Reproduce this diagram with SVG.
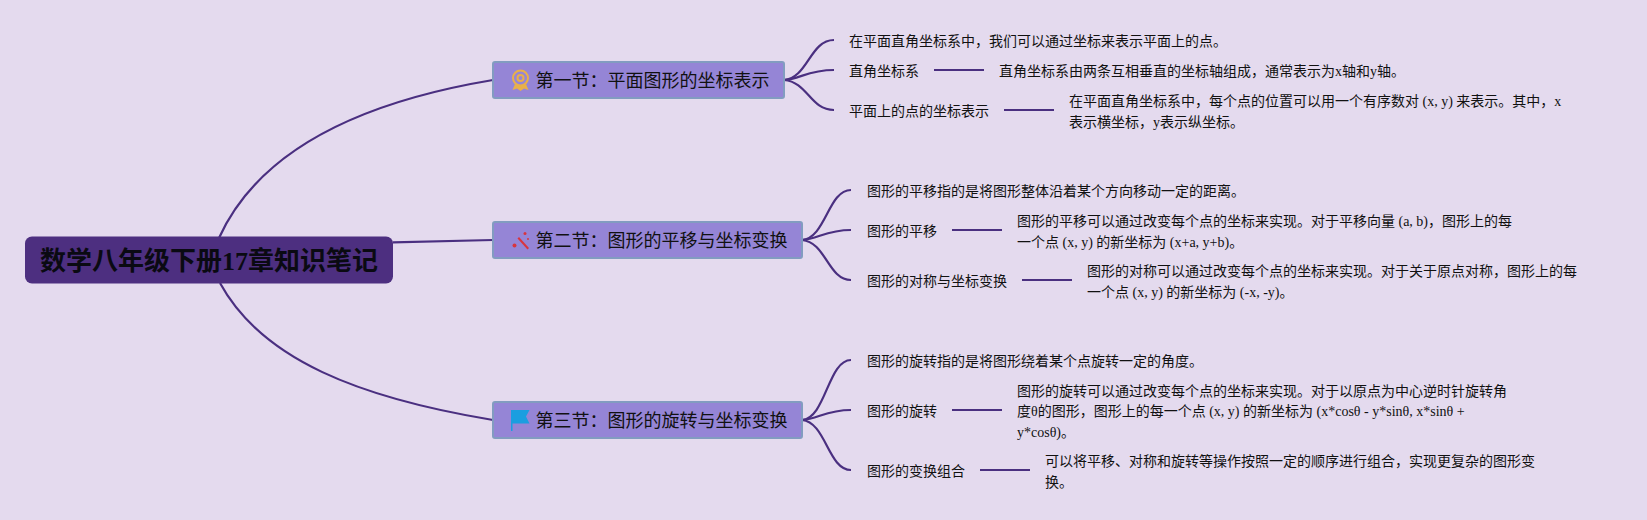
<svg xmlns="http://www.w3.org/2000/svg" width="1647" height="520" viewBox="0 0 1647 520">
<style>
text{font-family:"Liberation Serif","Noto Sans CJK SC",sans-serif;fill:#111}
.l{font-size:14px}
.s{font-size:18px}
.r{font-size:26px;font-weight:700;fill:#0a0a12}
.c{fill:none;stroke:#4a2f80;stroke-width:2.200}
.b{fill:#9585d6;stroke:#829cc0;stroke-width:2}
</style>
<rect width="1647" height="520" fill="#e4daee"/>
<g id="connectors">
<path class="c" d="M219 238C258 152 355 103 493 80"/>
<path class="c" d="M393 242.300L493 240"/>
<path class="c" d="M220 283C262 360 360 398 493 420"/>
<path class="c" d="M784 80C808 78 810 40 834 40"/>
<path class="c" d="M784 80C800 79 808 70 834 70"/>
<path class="c" d="M784 80C808 82 810 110 834 110"/>
<path class="c" d="M934 70H984"/>
<path class="c" d="M1004 110H1054"/>
<path class="c" d="M802 240C826 238 828 190 851 190"/>
<path class="c" d="M802 240C818 239 826 230 851 230"/>
<path class="c" d="M802 240C826 242 828 280 851 280"/>
<path class="c" d="M952 230H1002"/>
<path class="c" d="M1022 280H1072"/>
<path class="c" d="M802 420C826 418 828 360 851 360"/>
<path class="c" d="M802 420C818 419 826 410 851 410"/>
<path class="c" d="M802 420C826 422 828 470 851 470"/>
<path class="c" d="M952 410H1002"/>
<path class="c" d="M980 470H1030"/>
</g>
<g id="root"><rect x="25" y="236.500" width="368" height="47" rx="7" fill="#4d2f80"/><text class="r" x="40" y="270">数学八年级下册17章知识笔记</text></g>
<g id="s1"><rect class="b" x="493" y="62" width="291" height="36" rx="2"/>
<g fill="none" stroke="#e8b04a" stroke-width="2"><circle cx="520.500" cy="78" r="7.500"/><circle cx="520.500" cy="78" r="3"/></g><path d="M515 84L512.500 90L517 88.500L520.500 91L524 88.500L528.500 90L526 84L520.500 86Z" fill="#e8b04a"/>
<text class="s" x="535.500" y="87">第一节：平面图形的坐标表示</text></g>
<g id="s2"><rect class="b" x="493" y="222" width="309" height="36" rx="2"/>
<g fill="#d8353f"><path d="M517.500 238.500L519 237L529 248L527.500 249.500Z"/><circle cx="525" cy="233.500" r="1.500"/><circle cx="528" cy="239" r="1"/><circle cx="514.500" cy="245.500" r="2"/></g>
<text class="s" x="535.500" y="247">第二节：图形的平移与坐标变换</text></g>
<g id="s3"><rect class="b" x="493" y="402" width="309" height="36" rx="2"/>
<path d="M511 410H529.500L526 416.500L529.500 423.500H512.500V431H511Z" fill="#1b9ee0"/>
<text class="s" x="535.500" y="427">第三节：图形的旋转与坐标变换</text></g>
<g id="n1"><text class="l" x="849" y="46">在平面直角坐标系中，我们可以通过坐标来表示平面上的点。</text></g>
<g id="n2"><text class="l" x="849" y="76">直角坐标系</text></g>
<g id="n3"><text class="l" x="999" y="76">直角坐标系由两条互相垂直的坐标轴组成，通常表示为x轴和y轴。</text></g>
<g id="n4"><text class="l" x="849" y="116">平面上的点的坐标表示</text></g>
<g id="n5"><text class="l" x="1069" y="106">在平面直角坐标系中，每个点的位置可以用一个有序数对 (x, y) 来表示。其中，x</text><text class="l" x="1069" y="127">表示横坐标，y表示纵坐标。</text></g>
<g id="n6"><text class="l" x="867" y="196">图形的平移指的是将图形整体沿着某个方向移动一定的距离。</text></g>
<g id="n7"><text class="l" x="867" y="236">图形的平移</text></g>
<g id="n8"><text class="l" x="1017" y="226">图形的平移可以通过改变每个点的坐标来实现。对于平移向量 (a, b)，图形上的每</text><text class="l" x="1017" y="247">一个点 (x, y) 的新坐标为 (x+a, y+b)。</text></g>
<g id="n9"><text class="l" x="867" y="286">图形的对称与坐标变换</text></g>
<g id="n10"><text class="l" x="1087" y="276">图形的对称可以通过改变每个点的坐标来实现。对于关于原点对称，图形上的每</text><text class="l" x="1087" y="297">一个点 (x, y) 的新坐标为 (-x, -y)。</text></g>
<g id="n11"><text class="l" x="867" y="366">图形的旋转指的是将图形绕着某个点旋转一定的角度。</text></g>
<g id="n12"><text class="l" x="867" y="416">图形的旋转</text></g>
<g id="n13"><text class="l" x="1017" y="396">图形的旋转可以通过改变每个点的坐标来实现。对于以原点为中心逆时针旋转角</text><text class="l" x="1017" y="416">度θ的图形，图形上的每一个点 (x, y) 的新坐标为 (x*cosθ - y*sinθ, x*sinθ +</text><text class="l" x="1017" y="437">y*cosθ)。</text></g>
<g id="n14"><text class="l" x="867" y="476">图形的变换组合</text></g>
<g id="n15"><text class="l" x="1045" y="466">可以将平移、对称和旋转等操作按照一定的顺序进行组合，实现更复杂的图形变</text><text class="l" x="1045" y="487">换。</text></g>
</svg>
